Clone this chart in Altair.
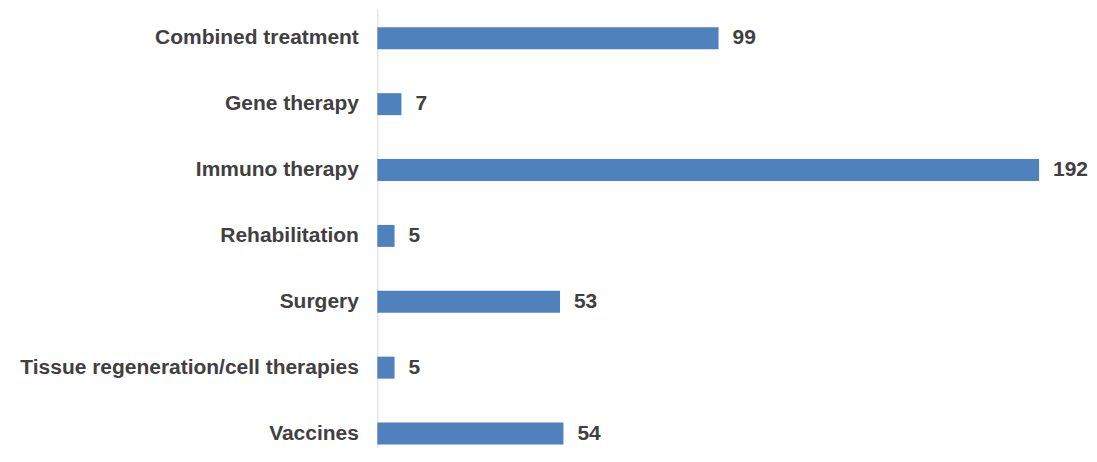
import altair as alt
import pandas as pd

categories = [
    "Combined treatment",
    "Gene therapy",
    "Immuno therapy ",
    "Rehabilitation",
    "Surgery",
    "Tissue regeneration/cell therapies",
    "Vaccines",
]
values = [99, 7, 192, 5, 53, 5, 54]

df = pd.DataFrame({"category": categories, "value": values})

FONT = "Liberation Sans"
TEXT_COLOR = "#404040"

y_enc = alt.Y(
    "category:N",
    sort=categories,
    title=None,
    scale=alt.Scale(paddingInner=2 / 3, paddingOuter=1 / 6, align=0.86),
    axis=alt.Axis(
        ticks=False,
        tickSize=0,
        labelPadding=19,
        labelFont=FONT,
        labelFontSize=21,
        labelFontWeight="bold",
        labelColor=TEXT_COLOR,
        domainColor="#d9d9d9",
        domainWidth=1,
        grid=False,
        minExtent=370,
        maxExtent=370,
        labelLimit=0,
    ),
)
x_enc = alt.X(
    "value:Q",
    scale=alt.Scale(domain=[0, 192], nice=False),
    axis=None,
)

bars = alt.Chart(df).mark_bar(color="#4f81bd").encode(x=x_enc, y=y_enc)

labels = alt.Chart(df).mark_text(
    align="left",
    baseline="middle",
    dx=14,
    font=FONT,
    fontSize=21,
    fontWeight="bold",
    color=TEXT_COLOR,
).encode(x=x_enc, y=y_enc, text="value:Q")

chart = (
    alt.layer(bars, labels)
    .properties(width=663, height=440, padding={"left": 0, "top": 0, "right": 0, "bottom": 0})
    .configure_view(stroke=None)
)

chart.save("out.html", embed_options={"renderer": "svg", "actions": False})
